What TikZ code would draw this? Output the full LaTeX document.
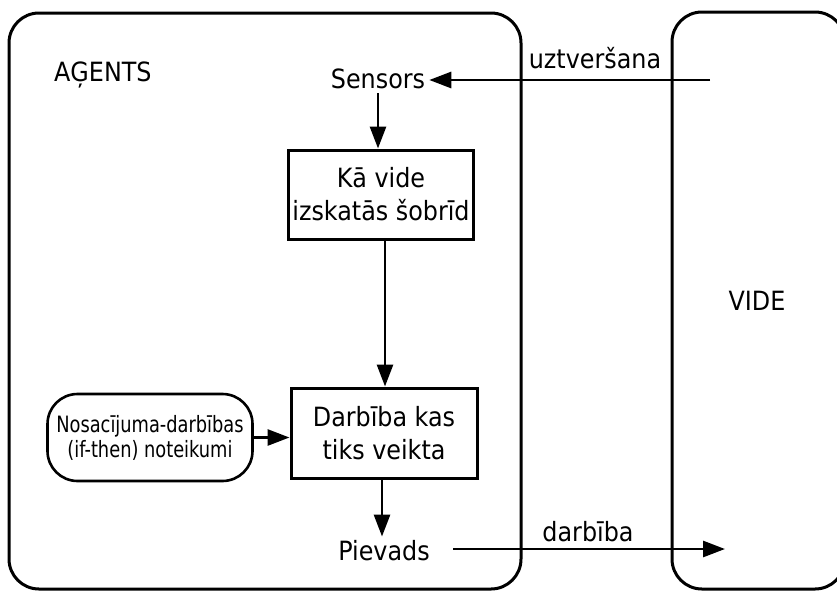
\documentclass[tikz,border=0pt]{standalone}
\usepackage{fontspec}
\setmainfont{DejaVu Sans Condensed}
\newfontfamily\condfont[FakeStretch=0.88]{DejaVu Sans Condensed}
\usetikzlibrary{arrows.meta}
\tikzset{
  big/.style={font=\fontsize{26.5}{33}\selectfont, inner sep=4pt},
  stepbox/.style={draw, line width=3pt, big, align=center, minimum width=182pt, minimum height=89pt},
  rulebox/.style={draw, line width=2.6pt, rounded corners=30pt, align=center,
     font=\condfont\fontsize{22.5}{25}\selectfont, minimum width=205pt, minimum height=87pt, inner sep=0pt},
  frame/.style={draw, line width=3pt, rounded corners=30pt},
  arr/.style={line width=2.8pt, -{Triangle[length=22pt,width=16pt]}},
}
\begin{document}
\begin{tikzpicture}[x=1pt,y=-1pt]
\useasboundingbox (0,0) rectangle (837,592);
\fill[white] (0,0) rectangle (837,592);
% frames
\draw[frame] (9,13) rectangle (521,589);
\draw[frame] (672,12) rectangle (845,589);
% texts
\node[big, anchor=west] (agents) at (50,75) {AĢENTS};
\node[big] (vide) at (757,301) {VIDE};
\node[big] (sensors) at (378,79) {Sensors};
\node[stepbox] (box1) at (381,194.5) {Kā vide\\izskatās šobrīd};
\node[stepbox, minimum width=186pt, minimum height=90pt] (box2) at (384,433) {Darbība kas\\tiks veikta};
\node[rulebox] (rules) at (150,437.5) {Nosacījuma-darbības\\(if-then) noteikumi};
\node[big] (pievads) at (384,551) {Pievads};
\node[big] (uzt) at (595,58) {uztveršana};
\node[big] (darb) at (588,532) {darbība};
\coordinate (vin) at (710,80);
\coordinate (vout) at (725,549);
\coordinate (pout) at (453,549);
% connectors
\draw[arr] (vin) -- (sensors.east |- vin);
\draw[arr] (sensors.south) -- (sensors.south |- box1.north);
\draw[arr] ([xshift=4pt]box1.south) -- ([xshift=4pt]box1.south |- box2.north);
\draw[arr] (rules.east) -- (rules.east -| box2.west);
\draw[arr] ([xshift=-2pt]box2.south) -- ([xshift=-2pt]pievads.north);
\draw[arr] (pout) -- (vout);
\end{tikzpicture}
\end{document}
